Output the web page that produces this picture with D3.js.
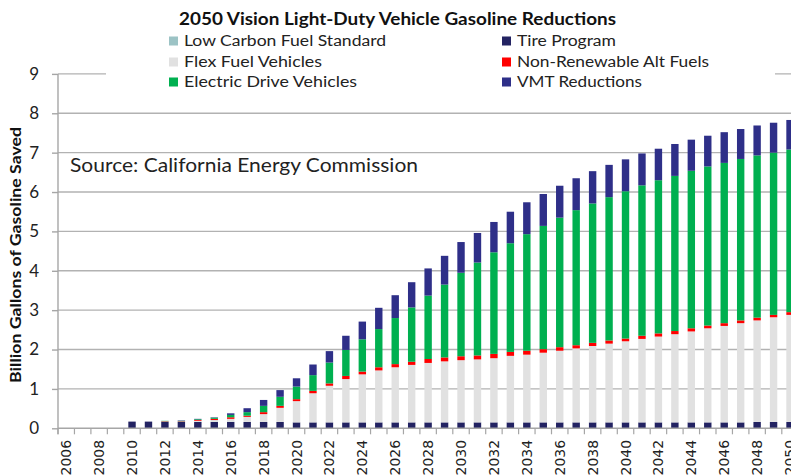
<!DOCTYPE html>
<html>
<head>
<meta charset="utf-8">
<script src="https://cdn.jsdelivr.net/npm/d3@7/dist/d3.min.js"></script>
<style>
  html, body { margin: 0; padding: 0; background: #fff; overflow: hidden; }
  svg { display: block; }
</style>
</head>
<body>
<svg id="chart" width="791" height="476"></svg>
<script>
// ---------------- DATA ----------------
const years = [2006,2007,2008,2009,2010,2011,2012,2013,2014,2015,2016,2017,2018,2019,2020,2021,2022,2023,2024,2025,2026,2027,2028,2029,2030,2031,2032,2033,2034,2035,2036,2037,2038,2039,2040,2041,2042,2043,2044,2045,2046,2047,2048,2049,2050];

const tireProgram = [0,0,0,0,0.17,0.17,0.16,0.16,0.16,0.16,0.16,0.16,0.16,0.16,0.15,0.15,0.15,0.15,0.15,0.15,0.15,0.15,0.15,0.15,0.15,0.15,0.15,0.15,0.15,0.15,0.15,0.15,0.15,0.15,0.15,0.15,0.15,0.15,0.15,0.15,0.15,0.15,0.16,0.16,0.16];
const lowCarbon   = [0,0,0,0,0,0,0.01,0.01,0.01,0.01,0.01,0,0,0,0,0,0,0,0,0,0,0,0,0,0,0,0,0,0,0,0,0,0,0,0,0,0,0,0,0,0,0,0,0,0];
const flexFuel    = [0,0,0,0,0,0,0,0,0.02,0.04,0.07,0.13,0.20,0.36,0.54,0.74,0.93,1.10,1.22,1.32,1.40,1.46,1.51,1.55,1.58,1.60,1.63,1.69,1.72,1.77,1.82,1.88,1.94,2.00,2.06,2.12,2.18,2.24,2.31,2.39,2.45,2.52,2.58,2.66,2.72];
const nonRenew    = [0,0,0,0,0,0,0.01,0.01,0.02,0.03,0.04,0.03,0.05,0.05,0.05,0.06,0.06,0.08,0.07,0.08,0.08,0.08,0.10,0.10,0.10,0.10,0.11,0.10,0.10,0.09,0.09,0.08,0.08,0.08,0.07,0.08,0.08,0.08,0.08,0.07,0.07,0.07,0.07,0.06,0.07];
const electric    = [0,0,0,0,0,0,0.01,0.01,0.02,0.03,0.06,0.09,0.16,0.23,0.32,0.40,0.53,0.66,0.82,0.97,1.17,1.38,1.61,1.85,2.12,2.36,2.58,2.76,2.96,3.13,3.29,3.43,3.54,3.64,3.74,3.82,3.89,3.94,4.00,4.04,4.07,4.10,4.12,4.12,4.13];
const vmt         = [0,0,0,0,0,0,0,0.01,0.01,0.01,0.04,0.10,0.15,0.17,0.21,0.27,0.29,0.36,0.45,0.54,0.58,0.64,0.69,0.73,0.78,0.75,0.77,0.80,0.81,0.81,0.81,0.81,0.82,0.82,0.81,0.81,0.80,0.81,0.79,0.78,0.78,0.76,0.76,0.76,0.75];

const yTicks = [0,1,2,3,4,5,6,7,8,9];
const xLabelYears = [2006,2008,2010,2012,2014,2016,2018,2020,2022,2024,2026,2028,2030,2032,2034,2036,2038,2040,2042,2044,2046,2048,2050];

// series in stacking order (bottom -> top)
const seriesKeys = ["tire","lcfs","flex","nonrenew","electric","vmt"];
const seriesNames = {
  tire: "Tire Program", lcfs: "Low Carbon Fuel Standard", flex: "Flex Fuel Vehicles",
  nonrenew: "Non-Renewable Alt Fuels", electric: "Electric Drive Vehicles", vmt: "VMT Reductions"
};
const seriesColors = {
  tire: "#232362", lcfs: "#9cc3c5", flex: "#e1e1e1",
  nonrenew: "#ff0000", electric: "#00b050", vmt: "#2e2f88"
};

const rows = years.map((yr, i) => ({
  year: yr, tire: tireProgram[i], lcfs: lowCarbon[i], flex: flexFuel[i],
  nonrenew: nonRenew[i], electric: electric[i], vmt: vmt[i]
}));

// ---------------- LAYOUT ----------------
const svg = d3.select("#chart");
const W = 791, H = 476;
const left = 58, step = 16.45;
const x = d3.scaleBand()
  .domain(years)
  .range([left, left + step * years.length])
  .paddingInner(0.55)
  .paddingOuter(0.275);
const y = d3.scaleLinear().domain([0, 9]).range([428.3, 73.9]);

const gridColor = "#b2b2b2";
const axisColor = "#a6a6a6";

// gridlines
svg.append("g").selectAll("line")
  .data(yTicks.filter(d => d > 0))
  .join("line")
  .attr("x1", left).attr("x2", W)
  .attr("y1", d => y(d)).attr("y2", d => y(d))
  .attr("stroke", gridColor).attr("stroke-width", 1.4);

// stacked bars
const stacked = d3.stack().keys(seriesKeys)(rows);
svg.append("g").selectAll("g")
  .data(stacked)
  .join("g")
  .attr("fill", d => seriesColors[d.key])
  .selectAll("rect")
  .data(d => d.filter(s => s[1] - s[0] > 0))
  .join("rect")
  .attr("x", d => x(d.data.year))
  .attr("width", x.bandwidth())
  .attr("y", d => y(d[1]))
  .attr("height", d => y(d[0]) - y(d[1]));

// y axis
const yAxis = d3.axisLeft(y).tickValues(yTicks).tickSize(6).tickPadding(13).tickFormat(d3.format("d"));
const gy = svg.append("g").attr("transform", `translate(${left},0)`).call(yAxis);
gy.select(".domain").remove();
gy.selectAll(".tick line").attr("stroke", axisColor).attr("stroke-width", 1.4);
gy.selectAll(".tick text")
  .attr("font-family", "Lato, 'Open Sans', sans-serif")
  .attr("font-size", 17).attr("fill", "#222");
svg.append("line")
  .attr("x1", left).attr("x2", left)
  .attr("y1", y(9)).attr("y2", y(0) + 6)
  .attr("stroke", axisColor).attr("stroke-width", 1.4);

// x axis
svg.append("line")
  .attr("x1", left).attr("x2", W)
  .attr("y1", y(0)).attr("y2", y(0))
  .attr("stroke", axisColor).attr("stroke-width", 1.4);
const gap = (x.step() - x.bandwidth()) / 2;
svg.append("g").selectAll("line")
  .data(years)
  .join("line")
  .attr("x1", d => x(d) - gap).attr("x2", d => x(d) - gap)
  .attr("y1", y(0)).attr("y2", y(0) + 6)
  .attr("stroke", axisColor).attr("stroke-width", 1.2);

const xAxis = d3.axisBottom(x).tickValues(xLabelYears).tickSize(0).tickPadding(0);
const gx = svg.append("g").attr("transform", `translate(0,${y(0)})`).call(xAxis);
gx.select(".domain").remove();
gx.selectAll(".tick text")
  .attr("font-family", "'DejaVu Sans', 'Liberation Sans', Arial, sans-serif")
  .attr("font-size", 14).attr("fill", "#222")
  .attr("text-anchor", "end")
  .attr("transform", "rotate(-90)")
  .attr("x", -11.5).attr("y", 0).attr("dy", "0.36em");

// white legend area covering top gridline
svg.append("rect").attr("x", 106).attr("y", 28).attr("width", 669).attr("height", 62).attr("fill", "#fff");

// title
svg.append("text")
  .attr("x", 179).attr("y", 25)
  .attr("font-family", "Lato, 'Open Sans', sans-serif")
  .attr("font-weight", "bold").attr("font-size", 16.5).attr("fill", "#111")
  .attr("textLength", 437).attr("lengthAdjust", "spacingAndGlyphs")
  .text("2050 Vision Light-Duty Vehicle Gasoline Reductions");

// legend
const legendItems = [
  { key: "lcfs", col: 0, row: 0, w: 202 },
  { key: "flex", col: 0, row: 1, w: 138 },
  { key: "electric", col: 0, row: 2, w: 173 },
  { key: "tire", col: 1, row: 0, w: 99 },
  { key: "nonrenew", col: 1, row: 1, w: 192 },
  { key: "vmt", col: 1, row: 2, w: 125 }
];
const colX = [168, 501];
const rowY = [41, 62, 82];
const lg = svg.append("g").selectAll("g").data(legendItems).join("g")
  .attr("transform", d => `translate(${colX[d.col]},${rowY[d.row]})`);
lg.append("rect").attr("x", 1).attr("y", -4.5).attr("width", 9).attr("height", 9)
  .attr("fill", d => seriesColors[d.key]);
lg.append("text").attr("x", 16).attr("y", 0).attr("dy", "0.35em")
  .attr("font-family", "Lato, 'Open Sans', sans-serif")
  .attr("font-size", 15.5).attr("fill", "#222")
  .attr("textLength", d => d.w).attr("lengthAdjust", "spacingAndGlyphs")
  .text(d => seriesNames[d.key]);

// source note
svg.append("text")
  .attr("x", 70).attr("y", 172)
  .attr("font-family", "Lato, 'Open Sans', sans-serif")
  .attr("font-size", 19).attr("fill", "#222")
  .attr("textLength", 348).attr("lengthAdjust", "spacingAndGlyphs")
  .text("Source: California Energy Commission");

// y axis title
svg.append("text")
  .attr("transform", "translate(21,255) rotate(-90)")
  .attr("text-anchor", "middle")
  .attr("font-family", "Lato, 'Open Sans', sans-serif")
  .attr("font-weight", "bold").attr("font-size", 15.5).attr("fill", "#111")
  .attr("textLength", 256).attr("lengthAdjust", "spacingAndGlyphs")
  .text("Billion Gallons of Gasoline Saved");
</script>
</body>
</html>
